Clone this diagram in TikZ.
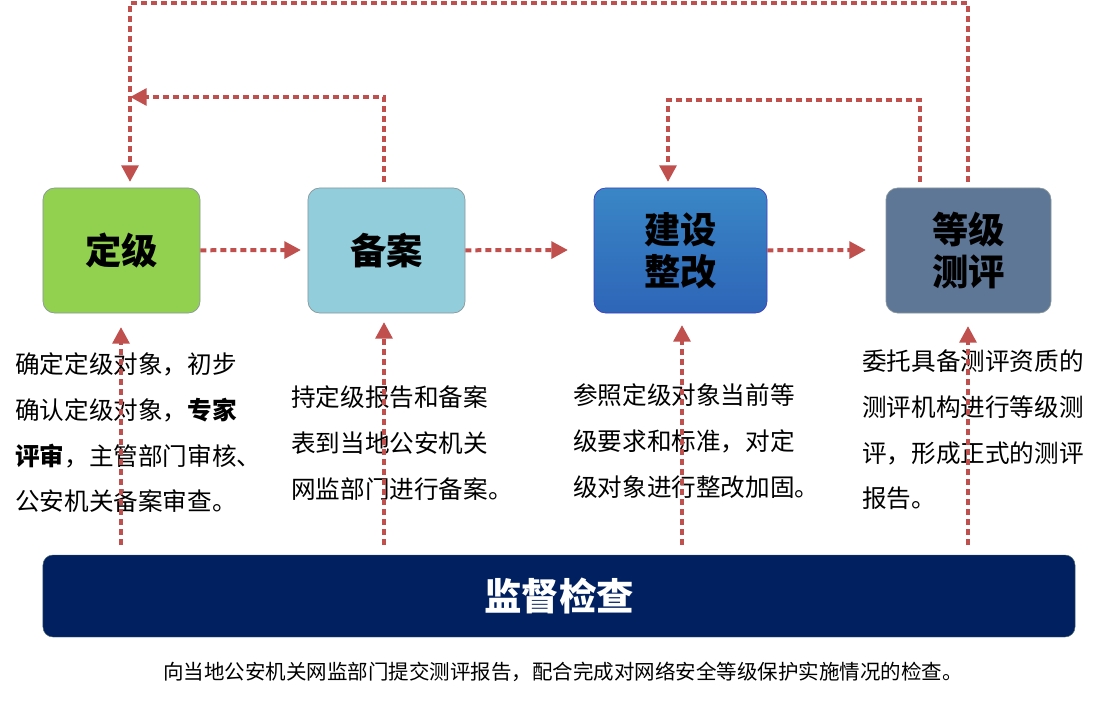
\documentclass[tikz,border=0pt]{standalone}
\usepackage{fontspec}
\setmainfont{Noto Sans CJK SC}
\usetikzlibrary{arrows.meta}
\definecolor{dotred}{HTML}{C0504D}
\definecolor{lvgreen}{HTML}{92D050}
\definecolor{lvblue}{HTML}{92CDDC}
\definecolor{lvslate}{HTML}{5F7797}
\definecolor{lvnavy}{HTML}{002060}
\tikzset{
  stage/.style={draw=lvblue!40!black!60, rounded corners=0.35cm, line width=0.6pt,
    font=\fontsize{31}{36}\selectfont\bfseries, align=center},
  flow/.style={draw=dotred, line width=0.12cm, dash pattern=on 0.18cm off 0.12cm,
    -{Triangle[length=0.5cm,width=0.5cm]}},
  note/.style={font=\fontsize{21}{39}\selectfont, align=left, anchor=west, inner sep=0pt}
}
\begin{document}
\begin{tikzpicture}[x=0.03cm, y=-0.03cm]
  \useasboundingbox (0,0) rectangle (1106,703);
  % stages
  \node[stage, fill=lvgreen, minimum width=4.71cm, minimum height=3.75cm] (Grade) at (121.5,250.5) {定级};
  \node[stage, fill=lvblue, minimum width=4.71cm, minimum height=3.75cm] (Record) at (386.5,250.5) {备案};
  \node[stage, top color=blue!45!cyan!55!gray, bottom color=blue!60!cyan!60!gray!90!black, draw=blue!50!gray,
    minimum width=5.19cm, minimum height=3.75cm] (Build) at (680.5,250.5) {建设\\整改};
  \node[stage, fill=lvslate, minimum width=4.95cm, minimum height=3.75cm] (Test) at (968.5,250.5) {等级\\测评};
  \node[draw=lvblue!50!black, fill=lvnavy, rounded corners=0.3cm, minimum width=30.96cm, minimum height=2.46cm,
    text=white, font=\fontsize{32}{36}\selectfont\bfseries] (Check) at (559,596) {监督检查};
  % notes
  \node[note] (Grade Note) at (15,433) {确定定级对象，初步\\确认定级对象，\textbf{专家}\\\textbf{评审}，主管部门审核、\\公安机关备案审查。};
  \node[note] (Record Note) at (291,443) {持定级报告和备案\\表到当地公安机关\\网监部门进行备案。};
  \node[note] (Build Note) at (573,441) {参照定级对象当前等\\级要求和标准，对定\\级对象进行整改加固。};
  \node[note] (Test Note) at (862,430) {委托具备测评资质的\\测评机构进行等级测\\评，形成正式的测评\\报告。};
  \node[font=\fontsize{17.5}{20}\selectfont, inner sep=0pt] (Bottom Note) at (563,672)
    {向当地公安机关网监部门提交测评报告，配合完成对网络安全等级保护实施情况的检查。};
  % corner points
  \coordinate (Grade Top) at (130,182);
  \coordinate (Grade In) at (130,97);
  \coordinate (Record Top) at (384,182);
  \coordinate (Build Top) at (668,182);
  \coordinate (Test Top A) at (920,182);
  \coordinate (Test Top B) at (968,182);
  % forward flow
  \draw[flow] (Grade) -- (301,250);
  \draw[flow] (Record) -- (568,250);
  \draw[flow] (Build) -- (866,250);
  % feedback loops
  \draw[flow] (Record Top) |- (Grade In);
  \draw[flow] (Test Top A) -- (920,100) -| (Build Top);
  \draw[flow] (Test Top B) -- (968,3) -| (Grade Top);
  % supervision
  \draw[flow] (121,545) -- (121,327);
  \draw[flow] (384,545) -- (384,322);
  \draw[flow] (682,545) -- (682,325);
  \draw[flow] (968,545) -- (968,326);
\end{tikzpicture}
\end{document}
